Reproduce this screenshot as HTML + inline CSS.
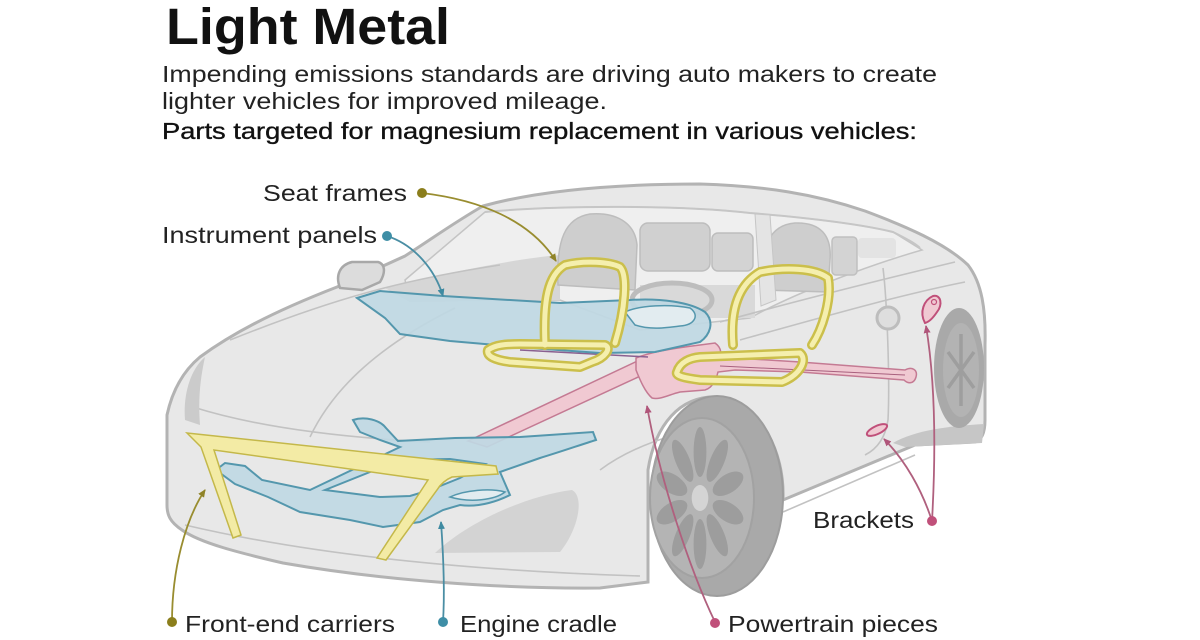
<!DOCTYPE html>
<html><head><meta charset="utf-8"><style>
html,body{margin:0;padding:0;background:#fff;width:1200px;height:640px;overflow:hidden}
svg{display:block}
text{font-family:"Liberation Sans",Arial,sans-serif}
</style></head><body>
<svg width="1200" height="640" viewBox="0 0 1200 640" xmlns="http://www.w3.org/2000/svg">
<defs>
<marker id="mo" markerWidth="8" markerHeight="8" refX="7" refY="4" orient="auto" markerUnits="userSpaceOnUse"><path d="M0,0.5 L8,4 L0,7.5 Z" fill="#8f8328"/></marker>
<marker id="mt" markerWidth="8" markerHeight="8" refX="7" refY="4" orient="auto" markerUnits="userSpaceOnUse"><path d="M0,0.5 L8,4 L0,7.5 Z" fill="#3f8aa1"/></marker>
<marker id="mp" markerWidth="8" markerHeight="8" refX="7" refY="4" orient="auto" markerUnits="userSpaceOnUse"><path d="M0,0.5 L8,4 L0,7.5 Z" fill="#b0557a"/></marker>
</defs>
<rect width="1200" height="640" fill="#fff"/>

<!-- Car body -->
<path d="M167,505 L167,415 C172,392 182,372 200,357 C230,335 270,313 337,287 L405,256 C430,240 455,222 483,206 C530,193 600,184 700,184 C765,186 815,194 865,211 C905,226 945,243 968,265 C982,283 986,310 985,345 L985,420 C985,432 982,440 975,442 L915,445 L783,500 C785,450 760,405 718,397 C680,395 655,425 648,470 L648,582 L600,588 C500,589 380,580 283,563 C240,553 200,543 182,530 C170,522 167,515 167,505 Z" fill="#e8e8e8" stroke="#b3b3b3" stroke-width="3"/>

<!-- greenhouse glass -->
<path d="M405,280 L485,212 C560,205 680,205 750,213 C810,218 860,224 893,232 L922,250 C880,262 800,290 750,318 L640,330 L560,300 L410,300 Z" fill="#efefef" stroke="#c4c4c4" stroke-width="1.5"/>
<path d="M485,212 C560,205 680,205 750,213 C810,218 860,224 893,232 C905,238 915,243 920,248" fill="none" stroke="#c6c6c6" stroke-width="2"/>
<!-- dashboard -->
<path d="M385,288 C450,272 520,258 560,255 L560,300 L410,302 Z" fill="#d6d6d6"/>
<rect x="640" y="285" width="115" height="33" fill="#d9d9d9"/>
<!-- seats -->
<path d="M558,285 C556,240 565,218 590,214 C615,212 635,222 637,245 L635,290 Z" fill="#cecece" stroke="#bdbdbd" stroke-width="1.5"/>
<rect x="640" y="223" width="70" height="48" rx="8" fill="#d0d0d0" stroke="#bdbdbd" stroke-width="1.5"/>
<rect x="712" y="233" width="41" height="38" rx="6" fill="#d3d3d3" stroke="#bdbdbd" stroke-width="1.5"/>
<path d="M763,290 C760,245 770,225 795,223 C820,222 832,235 830,260 L828,292 Z" fill="#cecece" stroke="#bdbdbd" stroke-width="1.5"/>
<rect x="832" y="237" width="25" height="38" rx="4" fill="#d3d3d3" stroke="#c0c0c0" stroke-width="1.5"/>
<rect x="858" y="238" width="38" height="20" rx="4" fill="#e3e3e3"/>
<path d="M755,214 L770,215 L776,300 L761,306 Z" fill="#e4e4e4" stroke="#c6c6c6" stroke-width="1"/>
<ellipse cx="672" cy="300" rx="40" ry="17" fill="none" stroke="#bdbdbd" stroke-width="5"/>

<!-- body lines -->
<g fill="none" stroke="#c2c2c2" stroke-width="1.6">
<path d="M955,262 C880,280 800,300 720,322"/>
<path d="M965,282 C900,295 830,315 740,340"/>
<path d="M193,407 C250,425 330,437 430,442"/>
<path d="M310,437 C330,395 370,350 455,308"/>
<path d="M185,525 C300,552 450,570 640,576"/>
<path d="M783,512 L915,455"/>
<path d="M883,268 C887,300 890,380 888,420 C885,440 875,450 865,455"/>
<path d="M600,470 C640,440 700,425 760,420"/>
<path d="M230,340 C330,300 400,280 500,265"/>
</g>
<circle cx="888" cy="318" r="11" fill="#dedede" stroke="#bdbdbd" stroke-width="3"/>
<!-- headlight / intake -->
<path d="M185,420 C183,395 190,370 205,357 C200,380 198,400 200,425 Z" fill="#cbcbcb"/>
<path d="M435,553 C470,520 530,495 572,490 C585,497 578,530 560,552 Z" fill="#d3d3d3"/>
<!-- mirror -->
<path d="M340,288 C335,275 340,265 352,262 L378,262 C385,264 386,272 380,282 L362,290 Z" fill="#dcdcdc" stroke="#a8a8a8" stroke-width="2.5"/>

<!-- rear wheel -->
<path d="M893,443 C915,430 950,426 984,424 L982,443 L905,447 Z" fill="#c6c6c6"/>
<ellipse cx="959" cy="368" rx="25" ry="60" fill="#a9a9a9"/>
<ellipse cx="961" cy="370" rx="18" ry="47" fill="#b3b3b3"/>
<g stroke="#9e9e9e" stroke-width="3.5">
<line x1="961" y1="334" x2="961" y2="406"/><line x1="948" y1="352" x2="974" y2="388"/><line x1="948" y1="388" x2="974" y2="352"/>
</g>

<!-- front wheel -->
<ellipse cx="717" cy="496" rx="66" ry="100" fill="#a9a9a9" stroke="#9d9d9d" stroke-width="2"/>
<ellipse cx="702" cy="498" rx="52" ry="80" fill="#b4b4b4" stroke="#a2a2a2" stroke-width="2"/>
<g transform="translate(700,498) scale(0.64,1)" fill="#9d9d9d">
<ellipse cx="0" cy="-46" rx="10" ry="25"/>
<ellipse cx="0" cy="-46" rx="10" ry="25" transform="rotate(36)"/>
<ellipse cx="0" cy="-46" rx="10" ry="25" transform="rotate(72)"/>
<ellipse cx="0" cy="-46" rx="10" ry="25" transform="rotate(108)"/>
<ellipse cx="0" cy="-46" rx="10" ry="25" transform="rotate(144)"/>
<ellipse cx="0" cy="-46" rx="10" ry="25" transform="rotate(180)"/>
<ellipse cx="0" cy="-46" rx="10" ry="25" transform="rotate(216)"/>
<ellipse cx="0" cy="-46" rx="10" ry="25" transform="rotate(252)"/>
<ellipse cx="0" cy="-46" rx="10" ry="25" transform="rotate(288)"/>
<ellipse cx="0" cy="-46" rx="10" ry="25" transform="rotate(324)"/>
<circle cx="0" cy="0" r="13" fill="#d4d4d4"/>
</g>

<!-- powertrain -->
<path d="M468,441 L648,356 L662,366 L487,447 Z" fill="#f0c9d2" stroke="#c47a93" stroke-width="1.5"/>
<path d="M636,358 C650,352 675,348 700,345 L715,343 C722,348 722,355 718,360 L735,358 L800,362 L905,370 C912,366 918,370 916,377 C914,384 908,384 904,380 L800,372 L735,370 L718,372 C716,380 712,388 705,390 L680,392 C668,395 660,400 652,398 C645,392 640,380 636,370 Z" fill="#f0c9d2" stroke="#c47a93" stroke-width="1.5"/>
<path d="M720,366 L905,375" stroke="#a8607e" stroke-width="1"/>
<path d="M520,350 L648,357" stroke="#8a6090" stroke-width="1.5"/>

<!-- instrument panel -->
<path d="M357,298 L380,291 L443,296 L560,303 L630,300 C660,298 690,302 705,312 C715,322 710,335 700,342 L655,352 L600,353 L530,348 L450,341 L400,334 L385,318 Z" fill="#bfd8e3" fill-opacity="0.92" stroke="#5497ad" stroke-width="2"/>
<path d="M625,312 C640,305 670,304 690,308 C700,315 695,325 680,326 C665,328 650,330 635,325 Z" fill="#e2ecf0" stroke="#5497ad" stroke-width="1.5"/>

<!-- engine cradle -->
<path fill-rule="evenodd" d="M353,420 C365,416 380,420 386,428 L398,441 L455,438 L520,437 L593,432 L596,440 C580,445 560,452 540,458 L500,472 L510,495 C500,500 480,508 460,505 L443,510 L420,522 L383,527 L350,520 L300,512 L268,497 L235,484 L216,470 L225,463 L245,466 L262,480 L310,490 L400,447 L380,440 L360,432 Z M325,490 L400,460 L450,459 L485,464 L460,478 L430,490 L410,496 L380,497 Z" fill="#bfd8e3" fill-opacity="0.92" stroke="#5497ad" stroke-width="2"/>
<path d="M450,497 C465,490 490,488 505,492 C495,500 470,503 450,497 Z" fill="#e2ecf0" stroke="#5497ad" stroke-width="1.5"/>

<!-- front-end carrier -->
<path d="M187,433 L496,466 L498,474 L452,477 C445,480 440,485 437,490 L386,560 L377,558 L428,480 L214,450 L241,535 L233,538 L201,447 Z" fill="#f3eba5" stroke="#c4b84a" stroke-width="1.5"/>

<!-- seat frames -->
<g fill="none" stroke-linejoin="round" stroke-linecap="round">
<path d="M545,345 C543,300 548,275 565,265 C585,260 610,262 620,267 C628,275 625,310 615,343" stroke="#cbbf4b" stroke-width="10"/>
<path d="M488,350 C495,345 505,344 520,344 L605,345 C612,348 605,358 592,362 L580,367 L510,362 C495,360 486,356 488,350 Z" stroke="#cbbf4b" stroke-width="10"/>
<path d="M733,345 C730,310 738,285 760,272 C785,267 815,268 828,278 C832,300 822,330 812,345" stroke="#cbbf4b" stroke-width="10"/>
<path d="M677,372 C680,362 690,358 700,357 L800,353 C808,360 800,375 782,382 L700,380 C685,378 675,376 677,372 Z" stroke="#cbbf4b" stroke-width="10"/>
<path d="M545,345 C543,300 548,275 565,265 C585,260 610,262 620,267 C628,275 625,310 615,343" stroke="#f5efae" stroke-width="5"/>
<path d="M488,350 C495,345 505,344 520,344 L605,345 C612,348 605,358 592,362 L580,367 L510,362 C495,360 486,356 488,350 Z" stroke="#f5efae" stroke-width="5"/>
<path d="M733,345 C730,310 738,285 760,272 C785,267 815,268 828,278 C832,300 822,330 812,345" stroke="#f5efae" stroke-width="5"/>
<path d="M677,372 C680,362 690,358 700,357 L800,353 C808,360 800,375 782,382 L700,380 C685,378 675,376 677,372 Z" stroke="#f5efae" stroke-width="5"/>
</g>

<!-- brackets -->
<path d="M925,323 C919,312 924,300 933,296 C941,294 943,305 937,312 C933,318 929,322 925,323 Z" fill="#f0c9d2" stroke="#c0507a" stroke-width="2"/>
<circle cx="934" cy="302" r="2.5" fill="none" stroke="#c0507a" stroke-width="1.2"/>
<ellipse cx="877" cy="430" rx="11" ry="4" transform="rotate(-25 877 430)" fill="#f0c9d2" stroke="#c0507a" stroke-width="2"/>

<!-- leader lines -->
<g fill="none" stroke-width="1.8">
<path d="M422,193 C480,200 530,220 556,261" stroke="#998d30" marker-end="url(#mo)"/>
<path d="M387,236 C415,245 435,270 443,296" stroke="#4a8ea4" marker-end="url(#mt)"/>
<path d="M172,622 C172,570 185,520 205,490" stroke="#998d30" marker-end="url(#mo)"/>
<path d="M443,622 C445,590 443,550 441,522" stroke="#4a8ea4" marker-end="url(#mt)"/>
<path d="M715,622 C690,570 660,480 647,406" stroke="#b0607e" marker-end="url(#mp)"/>
<path d="M932,521 C922,490 905,460 884,439" stroke="#b0607e" marker-end="url(#mp)"/>
<path d="M932,521 C936,450 935,380 926,326" stroke="#b0607e" marker-end="url(#mp)"/>
</g>
<circle cx="422" cy="193" r="5" fill="#8b7e1c"/>
<circle cx="387" cy="236" r="5" fill="#3e8ea6"/>
<circle cx="172" cy="622" r="5" fill="#8b7e1c"/>
<circle cx="443" cy="622" r="5" fill="#3e8ea6"/>
<circle cx="715" cy="623" r="5" fill="#c0507a"/>
<circle cx="932" cy="521" r="5" fill="#c0507a"/>

<!-- text -->
<text x="166" y="44" font-size="51" font-weight="bold" fill="#111" textLength="284" lengthAdjust="spacingAndGlyphs">Light Metal</text>
<text x="162" y="82" font-size="23" fill="#222" textLength="775" lengthAdjust="spacingAndGlyphs">Impending emissions standards are driving auto makers to create</text>
<text x="162" y="109" font-size="23" fill="#222" textLength="445" lengthAdjust="spacingAndGlyphs">lighter vehicles for improved mileage.</text>
<text x="162" y="139" font-size="23" fill="#111" stroke="#111" stroke-width="0.35" textLength="755" lengthAdjust="spacingAndGlyphs">Parts targeted for magnesium replacement in various vehicles:</text>

<g font-size="23" fill="#222">
<text x="263" y="201" textLength="144" lengthAdjust="spacingAndGlyphs">Seat frames</text>
<text x="162" y="243" textLength="215" lengthAdjust="spacingAndGlyphs">Instrument panels</text>
<text x="185" y="632" textLength="210" lengthAdjust="spacingAndGlyphs">Front-end carriers</text>
<text x="460" y="632" textLength="157" lengthAdjust="spacingAndGlyphs">Engine cradle</text>
<text x="728" y="632" textLength="210" lengthAdjust="spacingAndGlyphs">Powertrain pieces</text>
<text x="813" y="528" textLength="101" lengthAdjust="spacingAndGlyphs">Brackets</text>
</g>
</svg>
</body></html>
